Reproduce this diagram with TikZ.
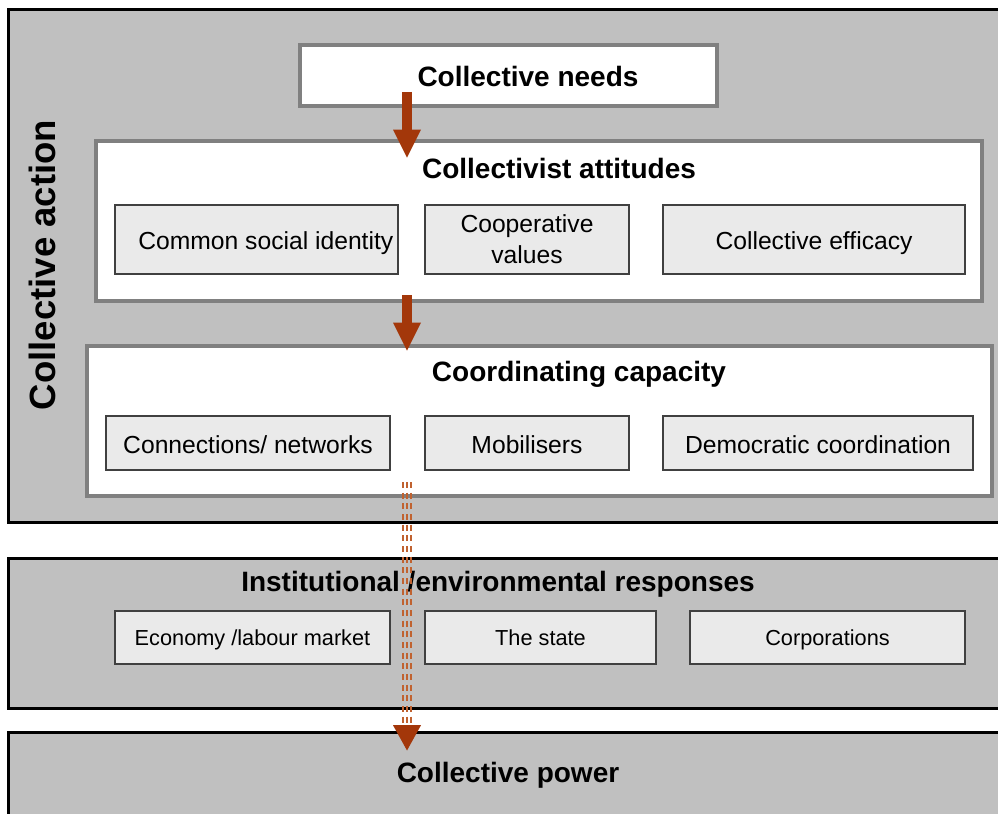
\documentclass[tikz,border=0pt]{standalone}
\usepackage{fontspec}
\setmainfont{Liberation Sans}
\usetikzlibrary{arrows.meta, fit}
\definecolor{rust}{RGB}{163,55,10}
\definecolor{rustlight}{RGB}{192,98,48}
\definecolor{layergray}{RGB}{192,192,192}
\definecolor{panelline}{RGB}{128,128,128}
\definecolor{cellline}{RGB}{64,64,64}
\definecolor{cellfill}{RGB}{234,234,234}

\begin{document}
\begin{tikzpicture}[x=0.75pt,y=0.75pt,yscale=-1,xscale=1,
  layer/.style={draw=black, line width=2.25pt, fill=layergray, inner sep=0pt},
  panel/.style={draw=panelline, line width=3pt, fill=white, inner sep=0pt},
  cell/.style={draw=cellline, line width=0.9pt, fill=cellfill, inner sep=0pt},
  celltext/.style={inner sep=0pt, align=center, font=\fontsize{18.5}{23}\selectfont},
  oneline/.style={celltext, text height=15pt, text depth=0pt},
  smallline/.style={oneline, font=\fontsize{16.3}{20}\selectfont, text height=12.5pt, text depth=0pt},
  heading/.style={inner sep=0pt, font=\bfseries\fontsize{21}{25}\selectfont},
  bigarrow/.style={draw=rust, line width=7pt,
    -{Triangle[width=21pt,length=21pt,line width=0pt]}},
  stripe/.style={draw=rustlight, line width=1.3pt, dash pattern={on 4.5pt off 3.5pt}}]
\useasboundingbox (0,0) rectangle (998,813);
\clip (0,0) rectangle (998,813);
\fill[white] (0,0) rectangle (998,813);

%Shape: Rectangle [collective action]
\node[layer, fit={(8,10) (1012,522)}] (action) {};
%Shape: Rectangle [responses]
\node[layer, fit={(8,558) (1012,708)}] (responses) {};
%Shape: Rectangle [power]
\node[layer, fit={(8,732) (1012,840)}] (power) {};

%Shape: Rectangle [needs]
\node[panel, fit={(300,45) (717,106)}] (needs) {};
%Shape: Rectangle [attitudes]
\node[panel, fit={(96,141) (982,301)}] (attitudes) {};
%Shape: Rectangle [capacity]
\node[panel, fit={(87,346) (992,496)}] (capacity) {};

% Text Node
\node[heading, font=\bfseries\fontsize{27.4}{30}\selectfont, rotate=90] (actiontitle) at (42,265) {Collective action};
% Text Node
\node[heading] (needstitle) at (528,76) {Collective needs};
% Text Node
\node[heading] (attitudestitle) at (559,168) {Collectivist attitudes};
% Text Node
\node[heading] (capacitytitle) at (579,374) {Coordinating capacity};
% Text Node
\node[heading] (responsestitle) at (498,584) {Institutional /environmental responses};
% Text Node
\node[heading] (powertitle) at (508,775) {Collective power};

%Shape: Rectangle [attitudes row]
\node[cell, fit={(115,205) (398,274)}, label={[oneline, xshift=7pt]center:Common social identity}] (identity) {};
\node[cell, fit={(425,205) (629,274)}, label={[celltext]center:Cooperative\\values}] (values) {};
\node[cell, fit={(663,205) (965,274)}, label={[oneline]center:Collective efficacy}] (efficacy) {};

%Shape: Rectangle [capacity row]
\node[cell, fit={(106,416) (390,470)}, label={[oneline]center:Connections/ networks}] (networks) {};
\node[cell, fit={(425,416) (629,470)}, label={[oneline]center:Mobilisers}] (mobilisers) {};
\node[cell, fit={(663,416) (973,470)}, label={[oneline]center:Democratic coordination}] (democratic) {};

%Shape: Rectangle [responses row]
\node[cell, fit={(115,611) (390,664)}, label={[smallline]center:Economy /labour market}] (economy) {};
\node[cell, fit={(425,611) (656,664)}, label={[smallline]center:The state}] (state) {};
\node[cell, fit={(690,611) (965,664)}, label={[smallline]center:Corporations}] (corporations) {};

\coordinate (spine) at (407,0);

%Straight Lines [solid arrows]
\draw[bigarrow] ([yshift=-12pt]needs.south -| spine) -- ([yshift=14pt]attitudes.north -| spine);
\draw[bigarrow] ([yshift=-6pt]attitudes.south -| spine) -- ([yshift=5pt]capacity.north -| spine);

%Straight Lines [striped arrow]
\draw[stripe] ([xshift=-3pt,yshift=-12pt]capacity.south -| spine) -- ([xshift=-3pt,yshift=-4pt]power.north -| spine);
\draw[stripe] ([xshift=3pt,yshift=-12pt]capacity.south -| spine) -- ([xshift=3pt,yshift=-4pt]power.north -| spine);
\draw[stripe, -{Triangle[width=21pt,length=19pt,line width=0pt,color=rust]}]
  ([yshift=-12pt]capacity.south -| spine) -- ([yshift=15pt]power.north -| spine);

\end{tikzpicture}
\end{document}
